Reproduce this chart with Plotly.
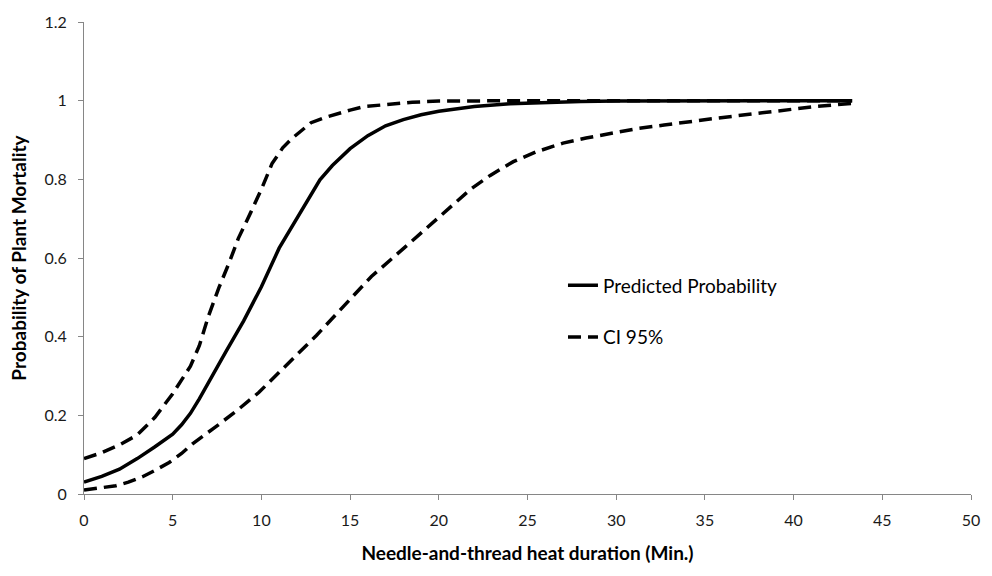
import plotly.graph_objects as go

# Predicted probability of mortality vs. heat duration (minutes)
pred_x = [0, 1, 2, 3, 4, 5, 5.5, 6, 6.5, 7, 8, 9, 10, 11, 12, 13.3, 14, 15, 16, 17, 18,
          19, 20, 22, 24, 26, 28, 30, 35, 40, 43.3]
pred_y = [0.030, 0.045, 0.063, 0.090, 0.120, 0.152, 0.176, 0.205, 0.242, 0.283, 0.362,
          0.440, 0.527, 0.625, 0.700, 0.799, 0.835, 0.878, 0.911, 0.936, 0.952,
          0.964, 0.973, 0.985, 0.992, 0.996, 0.998, 0.999, 1.0, 1.0, 1.0]

# Upper 95% confidence bound
upper_x = [0, 1, 2, 3, 4, 5, 6, 6.5, 7, 7.6, 8.2, 8.7, 9.4, 10, 10.6, 11.2, 11.7, 12.3,
           12.8, 13.5, 14.2, 15, 15.8, 17.3, 18.5, 20, 22, 25, 30, 35, 40, 43.3]
upper_y = [0.090, 0.105, 0.125, 0.150, 0.195, 0.255, 0.325, 0.377, 0.450, 0.524, 0.590,
           0.650, 0.716, 0.775, 0.840, 0.880, 0.903, 0.925, 0.944, 0.956, 0.966, 0.976,
           0.985, 0.992, 0.996, 0.999, 1.0, 1.0, 1.0, 1.0, 1.0, 1.0]

# Lower 95% confidence bound
lower_x = [0, 1, 1.8, 2.5, 3.3, 4, 4.8, 5.5, 6.1, 7.4, 8.7, 9.85, 10.9, 12, 13.1, 14.15,
           15.2, 16.2, 17.4, 18.55, 19.7, 20.8, 21.8, 22.9, 24.2, 25.5, 27, 28.3, 29.8,
           31.3, 32.7, 34.1, 35.6, 36.9, 38.4, 39.9, 41.2, 43.3]
lower_y = [0.010, 0.015, 0.021, 0.030, 0.044, 0.060, 0.080, 0.103, 0.127, 0.170, 0.215,
           0.258, 0.306, 0.354, 0.403, 0.453, 0.503, 0.553, 0.600, 0.645, 0.690, 0.735,
           0.775, 0.810, 0.845, 0.870, 0.892, 0.905, 0.918, 0.930, 0.938, 0.947, 0.955,
           0.962, 0.970, 0.978, 0.985, 0.993]

x_ticks = [0, 5, 10, 15, 20, 25, 30, 35, 40, 45, 50]
y_ticks = [0, 0.2, 0.4, 0.6, 0.8, 1.0, 1.2]

FONT = "Lato"
DASH = "13px,7px"

fig = go.Figure()
fig.add_trace(go.Scatter(
    x=pred_x, y=pred_y, mode="lines", name="Predicted Probability",
    line=dict(color="black", width=3.5), legendgroup="a"))
fig.add_trace(go.Scatter(
    x=upper_x, y=upper_y, mode="lines", name="CI 95%",
    line=dict(color="black", width=3.5, dash=DASH), legendgroup="b"))
fig.add_trace(go.Scatter(
    x=lower_x, y=lower_y, mode="lines", name="CI 95% (lower)", showlegend=False,
    line=dict(color="black", width=3.5, dash=DASH), legendgroup="b"))

axis_common = dict(
    showline=True, linecolor="#868686", linewidth=1,
    ticks="outside", ticklen=5, tickcolor="#868686", tickwidth=1,
    showgrid=False, zeroline=False,
    tickfont=dict(family=FONT, size=16, color="#1a1a1a"),
)

fig.update_layout(
    width=992, height=576,
    margin=dict(l=84, r=16, t=15, b=82),
    paper_bgcolor="white", plot_bgcolor="white",
    font=dict(family=FONT, color="black"),
    xaxis=dict(range=[0, 50], tickvals=x_ticks, ticklabelstandoff=7,
               title=dict(text="<b>Needle-and-thread heat duration (Min.)</b>",
                          font=dict(family=FONT, size=19), standoff=18),
               **axis_common),
    yaxis=dict(range=[0, 1.2], tickvals=y_ticks, ticklabelstandoff=8,
               title=dict(text="<b>Probability of Plant Mortality</b>",
                          font=dict(family=FONT, size=19), standoff=12),
               **axis_common),
    legend=dict(x=0.54, y=0.482, xanchor="left", yanchor="top",
                font=dict(family=FONT, size=19, color="black"),
                tracegroupgap=24, bgcolor="rgba(0,0,0,0)"),
    showlegend=True,
)

fig.write_html("out.html")
